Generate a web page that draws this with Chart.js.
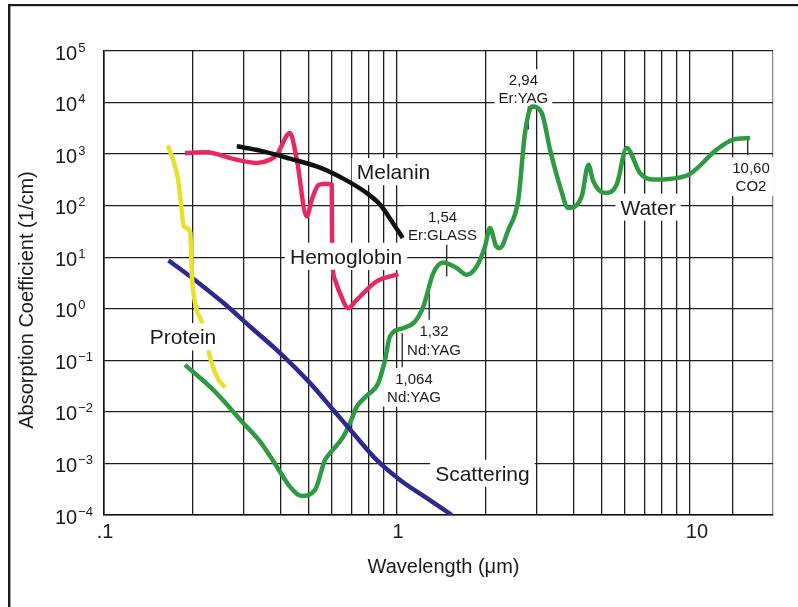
<html>
<head>
<script src="https://cdn.jsdelivr.net/npm/chart.js"></script>
<style>
  body { margin: 0; background: #fff; }
  #wrap { position: relative; width: 798px; height: 607px; }
</style>
</head>
<body>
<div id="wrap"><canvas id="myChart"></canvas></div>

<script>
// wavelength in um, absorption coefficient in 1/cm
const proteinX = [0.165, 0.172, 0.179, 0.184, 0.187, 0.197, 0.198, 0.199, 0.202, 0.207, 0.216, 0.224, 0.233, 0.246, 0.259];
const proteinY = [1460, 780, 320, 84, 40, 30, 16, 5.7, 2.05, 0.96, 0.54, 0.22, 0.089, 0.042, 0.030];

const hemoglobinX = [0.189, 0.224, 0.276, 0.332, 0.369, 0.389, 0.431, 0.455, 0.492, 0.512, 0.539, 0.568, 0.599, 0.600, 0.603, 0.614, 0.639, 0.682, 0.719, 0.748, 0.852, 1.01];
const hemoglobinY = [1055, 1084, 807, 675, 782, 977, 2580, 782, 62, 131, 250, 267, 256, 34, 7.2, 3.7, 2.0, 1.03, 1.37, 1.73, 3.4, 4.7];

const melaninX = [0.284, 0.341, 0.431, 0.546, 0.665, 0.788, 0.875, 0.962, 1.046];
const melaninY = [1417, 1169, 818, 547, 320, 176, 105, 48.9, 23.6];

const scatteringX = [0.166, 0.197, 0.256, 0.315, 0.399, 0.505, 0.606, 0.709, 0.852, 1.024, 1.246, 1.537];
const scatteringY = [8.67, 4.24, 1.29, 0.453, 0.138, 0.0361, 0.0109, 0.00386, 0.00117, 0.000479, 0.000224, 0.0001];

const waterX = [0.189, 0.236, 0.299, 0.341, 0.389, 0.431, 0.473, 0.525, 0.568, 0.591, 0.656, 0.691, 0.729, 0.788, 0.863, 0.910, 0.946,
  1.051, 1.152, 1.230, 1.330, 1.439, 1.599, 1.729, 1.871, 1.997, 2.076, 2.177, 2.246, 2.399, 2.594, 2.735, 2.889, 3.118, 3.329,
  3.600, 3.842, 4.270, 4.500, 4.677, 5.128, 5.620, 6.080, 6.750, 7.490, 9.740, 12.33, 14.05, 16.03];
const waterY = [0.0818, 0.0267, 0.00604, 0.00265, 0.000867, 0.000355, 0.000234, 0.000306, 0.00117, 0.00158, 0.00331, 0.00604, 0.0127,
  0.0205, 0.0361, 0.102, 0.290, 0.422, 0.567, 1.11, 4.93, 7.93, 6.17, 4.57, 6.63, 16.2, 36.9, 16.7, 15.1, 34.2, 131, 2580, 8360,
  6310, 1222, 237, 90.2, 152, 625, 297, 176, 256, 1319, 431, 320, 383, 1222, 1913, 2045];

// laser lines: [wavelength, top, bottom] of the little marker stroke
const laserMarks = [[2.806, 8360, 2990], [1.478, 17.5, 4.24], [1.288, 2.02, 0.611], [1.042, 0.337, 0.0738], [15.74, 2217, 977]];

// axis
const xMin = 0.1, xMax = 19.2;
const xGridValues = [0.1, 0.2, 0.3, 0.4, 0.5, 0.6, 0.7, 0.8, 0.9, 1, 2, 3, 4, 5, 6, 7, 8, 9, 10, 14, 19.2];
const xTickValues = [0.1, 1, 10];
const xTickLabels = ['.1', '1', '10'];
const yTickValues = [1e-4, 1e-3, 1e-2, 1e-1, 1, 10, 100, 1e3, 1e4, 1e5];
const yTickPowers = ['\u22124', '\u22123', '\u22122', '\u22121', '0', '1', '2', '3', '4', '5'];

// text notes, placed at (wavelength, coefficient); cover = white box also hides the curves
const notes = [
  { lines: ['Melanin'], x: 0.973, y: 457, size: 21 },
  { lines: ['Hemoglobin'], x: 0.670, y: 10.4, size: 21, cover: true },
  { lines: ['Protein'], x: 0.186, y: 0.286, size: 21, cover: true },
  { lines: ['Water'], x: 7.19, y: 93.5, size: 21 },
  { lines: ['Scattering'], x: 1.957, y: 0.000645, size: 21 },
  { lines: ['2,94', 'Er:YAG'], x: 2.70, y: 18700, size: 15 },
  { lines: ['1,54', 'Er:GLASS'], x: 1.43, y: 40.9, size: 15 },
  { lines: ['1,32', 'Nd:YAG'], x: 1.338, y: 0.2455, size: 15 },
  { lines: ['1,064', 'Nd:YAG'], x: 1.143, y: 0.0299, size: 15 },
  { lines: ['10,60', 'CO2'], x: 16.15, y: 366, size: 15 }
];

const FONT = "'Liberation Sans', Arial, Helvetica, sans-serif";

function pts(xs, ys) {
  return xs.map(function (x, i) { return { x: x, y: ys[i] }; });
}

function curve(data, color) {
  return {
    data: data,
    borderColor: color,
    borderWidth: 4.5,
    pointRadius: 0,
    fill: false,
    cubicInterpolationMode: 'monotone',
    borderJoinStyle: 'round'
  };
}

const datasets = [
  curve(pts(proteinX, proteinY), '#e9e02b'),
  curve(pts(melaninX, melaninY), '#111111'),
  curve(pts(hemoglobinX, hemoglobinY), '#e52a63'),
  curve(pts(scatteringX, scatteringY), '#2c2a8e'),
  curve(pts(waterX, waterY), '#2e9b42')
];
laserMarks.forEach(function (m) {
  datasets.push({
    data: [{ x: m[0], y: m[1] }, { x: m[0], y: m[2] }],
    borderColor: '#222',
    borderWidth: 1.3,
    pointRadius: 0,
    tension: 0
  });
});

function noteBox(chart, n) {
  const ctx = chart.ctx;
  const px = chart.scales.x.getPixelForValue(n.x);
  const py = chart.scales.y.getPixelForValue(n.y);
  const lh = n.size === 21 ? 25 : 18.3;
  ctx.font = n.size + 'px ' + FONT;
  let w = 0;
  n.lines.forEach(function (t) { w = Math.max(w, ctx.measureText(t).width); });
  const pad = n.size === 21 ? 5 : 4;
  const h = n.lines.length * lh + 2;
  return { px: px, py: py, lh: lh, x: px - w / 2 - pad, y: py - h / 2, w: w + 2 * pad, h: h };
}

const textPlugin = {
  id: 'textPlugin',
  beforeDraw: function (chart) {
    const ctx = chart.ctx;
    ctx.save();
    ctx.fillStyle = '#fff';
    ctx.fillRect(0, 0, chart.width, chart.height);
    ctx.fillStyle = '#1a1a1a';
    ctx.fillRect(8, 4, chart.width - 8, 2.2);
    ctx.fillRect(8, 4, 2.4, chart.height - 4);
    ctx.restore();
  },
  beforeDatasetsDraw: function (chart) {
    // white boxes that break the grid under the notes
    const ctx = chart.ctx;
    ctx.save();
    ctx.fillStyle = '#fff';
    notes.forEach(function (n) {
      const b = noteBox(chart, n);
      ctx.fillRect(b.x, b.y, b.w, b.h);
    });
    ctx.restore();
  },
  afterDatasetsDraw: function (chart) {
    const ctx = chart.ctx;
    ctx.save();
    notes.forEach(function (n) {
      const b = noteBox(chart, n);
      if (n.cover) {
        ctx.fillStyle = '#fff';
        ctx.fillRect(b.x, b.y, b.w, b.h);
      }
      ctx.font = n.size + 'px ' + FONT;
      ctx.fillStyle = '#1a1a1a';
      ctx.textAlign = 'center';
      ctx.textBaseline = 'alphabetic';
      n.lines.forEach(function (t, i) {
        const cy = b.py + (i - (n.lines.length - 1) / 2) * b.lh;
        ctx.fillText(t, b.px, cy + 0.358 * n.size);
      });
    });
    ctx.restore();
  },
  afterDraw: function (chart) {
    const ctx = chart.ctx;
    const xs = chart.scales.x, ys = chart.scales.y;
    const area = chart.chartArea;
    ctx.save();
    ctx.fillStyle = '#1a1a1a';
    // y tick labels 10^n
    yTickValues.forEach(function (v, i) {
      const py = ys.getPixelForValue(v);
      ctx.font = '20px ' + FONT;
      ctx.textAlign = 'left';
      ctx.textBaseline = 'alphabetic';
      const lx = area.left - 49;
      ctx.fillText('10', lx, py + 8.5);
      const w = ctx.measureText('10').width;
      ctx.font = '13px ' + FONT;
      ctx.fillText(yTickPowers[i], lx + w + 1, py + 0.5);
    });
    // x tick labels
    ctx.font = '20px ' + FONT;
    ctx.textAlign = 'center';
    xTickValues.forEach(function (v, i) {
      ctx.fillText(xTickLabels[i], xs.getPixelForValue(v) + (v === 10 ? 7 : 1), area.bottom + 23);
    });
    // axis titles
    ctx.font = '20px ' + FONT;
    ctx.fillText('Wavelength (\u03bcm)', (area.left + area.right) / 2 + 5, area.bottom + 58);
    ctx.translate(area.left - 71, 300);
    ctx.rotate(-Math.PI / 2);
    ctx.fillText('Absorption Coefficient (1/cm)', 0, 0);
    ctx.restore();
  }
};

const config = {
  type: 'line',
  data: { datasets: datasets },
  options: {
    responsive: true,
    maintainAspectRatio: false,
    animation: false,
    layout: { padding: { left: 104, top: 51, right: 25, bottom: 92 } },
    plugins: { legend: { display: false }, tooltip: { enabled: false } },
    scales: {
      x: {
        type: 'logarithmic',
        min: xMin,
        max: xMax,
        afterBuildTicks: function (s) { s.ticks = xGridValues.map(function (v) { return { value: v }; }); },
        ticks: { display: false },
        grid: {
          drawTicks: false,
          lineWidth: 1.3,
          color: function (c) { return c.tick && c.tick.value === xMax ? '#8a8a8a' : '#1e1e1e'; }
        },
        border: { display: true, color: '#111', width: 1.6 }
      },
      y: {
        type: 'logarithmic',
        min: 1e-4,
        max: 1e5,
        afterBuildTicks: function (s) { s.ticks = yTickValues.map(function (v) { return { value: v }; }); },
        ticks: { display: false },
        grid: { drawTicks: false, lineWidth: 1.3, color: '#1e1e1e' },
        border: { display: true, color: '#111', width: 1.6 }
      }
    }
  },
  plugins: [textPlugin]
};

const newChart = new Chart(document.getElementById('myChart'), config);
</script>
</body>
</html>
